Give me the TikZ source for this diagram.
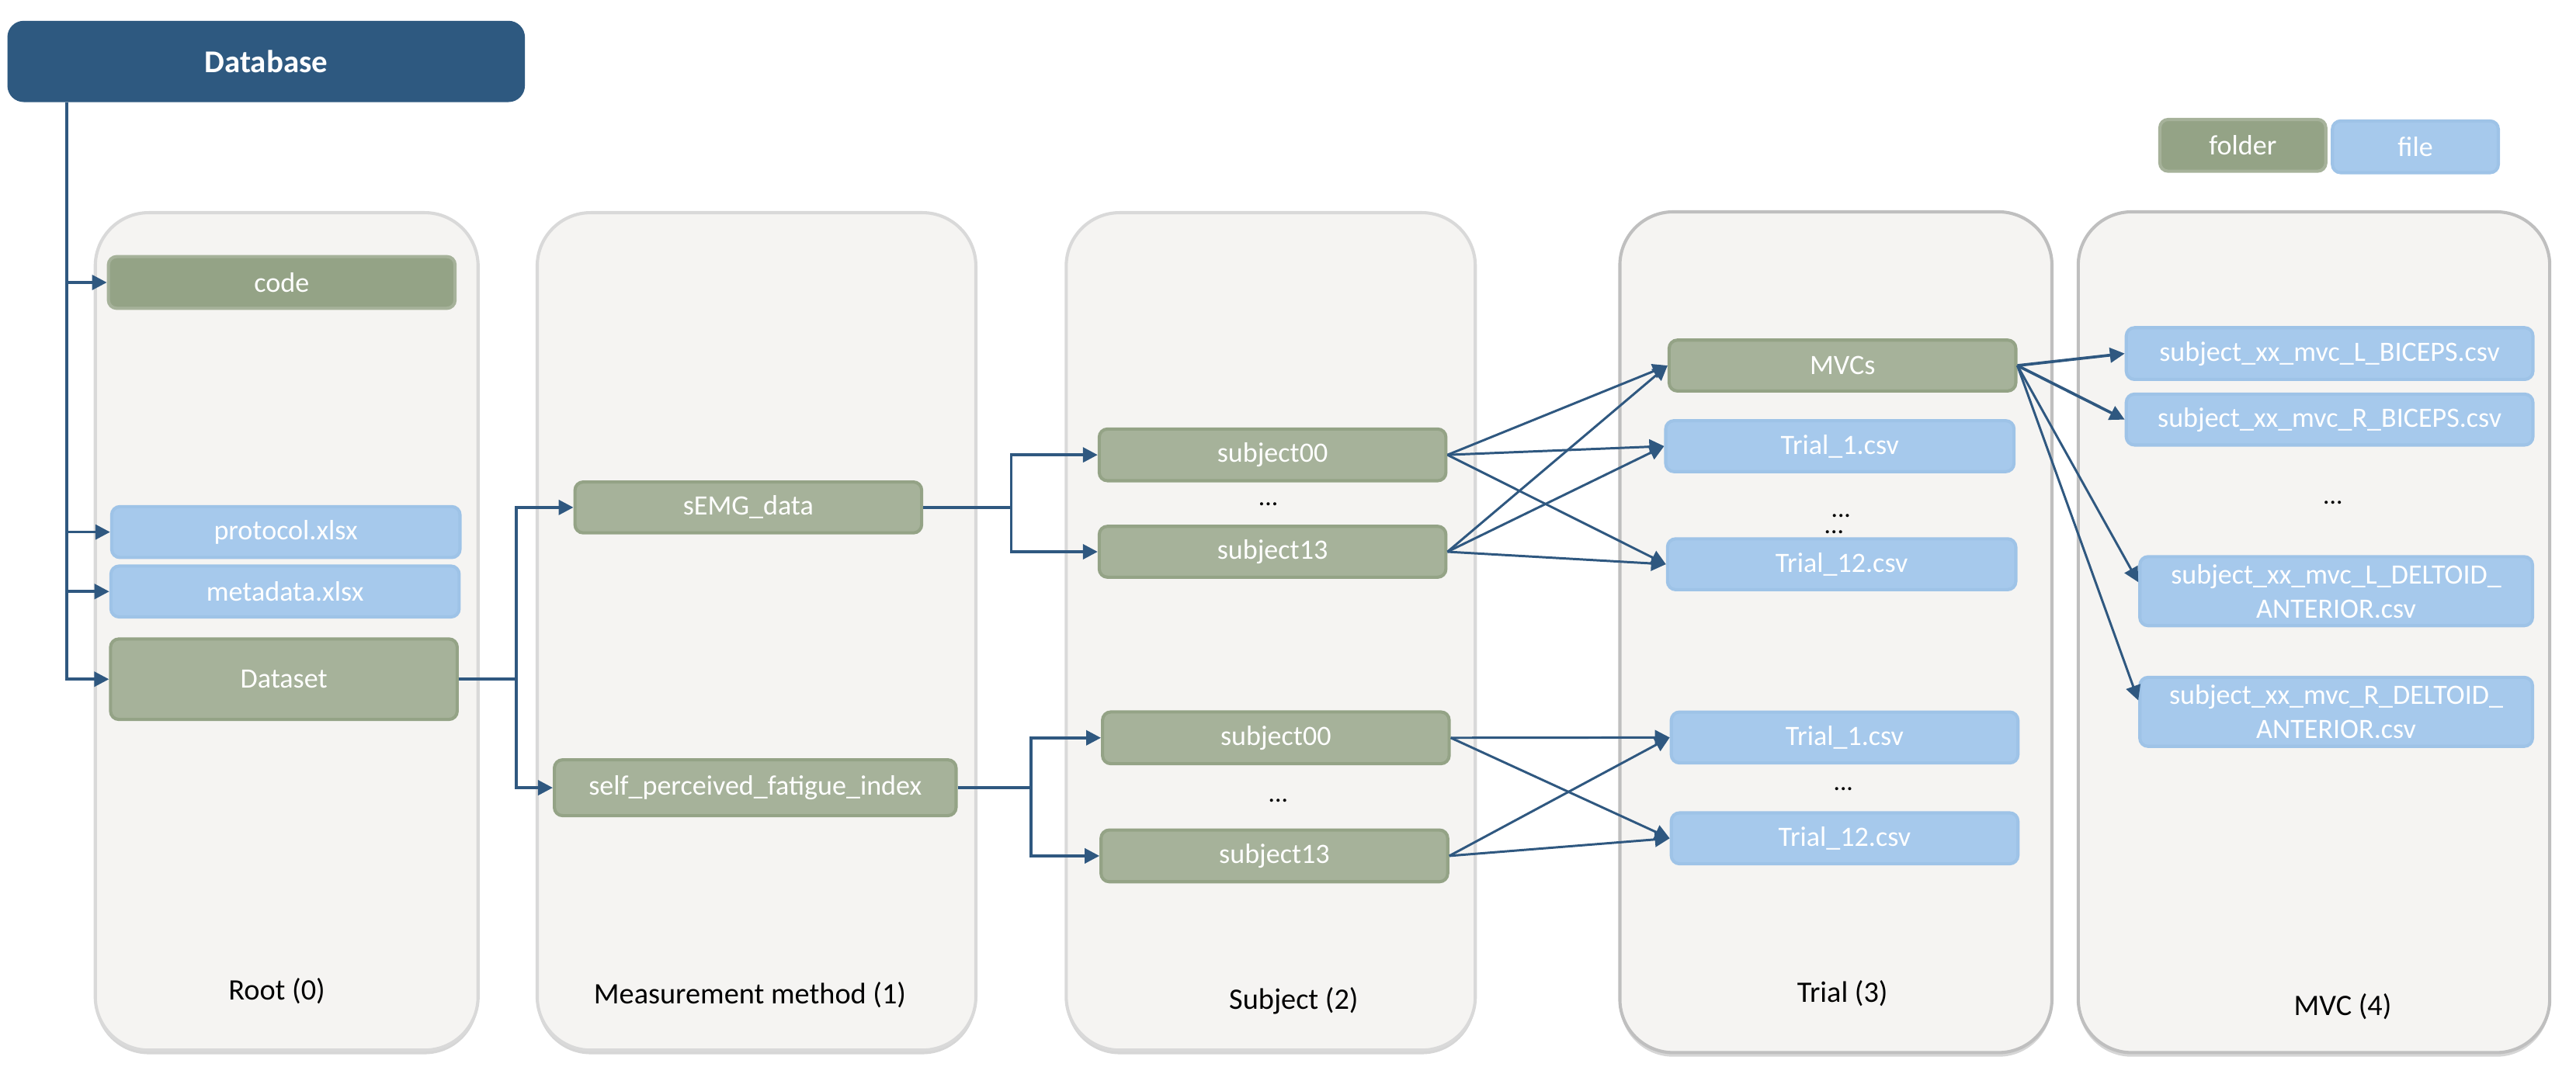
\documentclass[tikz,border=0pt]{standalone}
\usepackage{fontspec}
\setmainfont{Carlito}
\usepackage{xcolor}
\usepackage{tikz}
\usetikzlibrary{arrows.meta,shadows}

\definecolor{dbblue}{RGB}{46,89,128}
\definecolor{arrblue}{RGB}{47,88,128}
\definecolor{folderlt}{RGB}{166,178,154}
\definecolor{folderdk}{RGB}{148,163,134}
\definecolor{filebl}{RGB}{166,201,236}
\definecolor{fileedge}{RGB}{158,195,231}
\definecolor{panelfill}{RGB}{245,244,242}
\definecolor{paneledge}{RGB}{217,217,217}
\definecolor{paneldark}{RGB}{191,191,191}

\begin{document}
\begin{tikzpicture}[x=0.2mm, y=-0.2mm,
                    box/.style = {rounded corners=1mm, line width=1.1pt, text=white, inner sep=0pt,
                                  align=center, font=\fontsize{9.7}{11.8}\selectfont,
                                  minimum width=42.2mm, minimum height=6.2mm},
                    folder/.style = {box, fill=folderlt, draw=folderdk},
                    folderdark/.style = {box, fill=folderdk, draw=folderlt},
                    file/.style = {box, fill=filebl, draw=fileedge},
                    panel/.style = {rounded corners=6.5mm, fill=panelfill, draw=paneledge, line width=1.1pt,
                                    minimum height=102mm,
                                    drop shadow={shadow xshift=0mm, shadow yshift=-0.5mm, fill=black!16, opacity=1}},
                    level/.style = {font=\fontsize{10.3}{12}\selectfont},
                    dots/.style = {anchor=base, inner sep=0pt, text height=0.3ex, text depth=0pt,
                                   font=\fontsize{9}{10}\selectfont},
                    arr/.style = {draw=arrblue, line width=1pt, -{Triangle[length=1.8mm, width=1.8mm]}}]
                \useasboundingbox (0,0) rectangle (1568,654);

                \node[panel, minimum width=46.6mm] (root) at (174.5,384.5) {};
                \node[panel, minimum width=53.4mm] (meas) at (460.5,384.5) {};
                \node[panel, minimum width=49.8mm] (subj) at (773.5,384.5) {};
                \node[panel, draw=paneldark, minimum width=52.6mm, minimum height=102.4mm] (trial) at (1117.5,385) {};
                \node[panel, draw=paneldark, minimum width=57.4mm, minimum height=102.4mm] (mvc) at (1408.5,385) {};
                \node[level] (lroot) at (168.5,603.3) {Root (0)};
                \node[level] (lmeas) at (456.5,605.7) {Measurement method (1)};
                \node[level] (lsubj) at (787.5,609.6) {Subject (2)};
                \node[level] (ltrial) at (1121.5,605) {Trial (3)};
                \node[level] (lmvc) at (1426,612.8) {MVC (4)};

                \node[fill=dbblue, rounded corners=2mm, text=white, font=\bfseries\fontsize{11}{13}\selectfont,
                      minimum width=63mm, minimum height=9.9mm] (db) at (162,37.4) {Database};
                \coordinate (trunk) at ([xshift=7.3mm]db.south west);

                \node[folderdark, minimum width=20.2mm, minimum height=6.3mm] (legfolder) at (1365.2,88.5) {folder};
                \node[file, minimum width=20.2mm, minimum height=6.3mm] (legfile) at (1470.2,89.4) {file};

                \node[folderdark, minimum height=6.3mm] (code) at (171.5,172) {code};
                \node[file, minimum width=42.4mm] (protocol) at (174,324) {protocol.xlsx};
                \node[file, minimum width=42.4mm] (metadata) at (173.5,360.2) {metadata.xlsx};
                \node[folder, minimum height=9.8mm] (dataset) at (172.8,413.6) {Dataset};

                \node[folder] (semg) at (455.5,309) {sEMG\_data};
                \node[folder, minimum width=48.9mm, minimum height=6.8mm] (spfi) at (459.7,479.7) {self\_perceived\_fatigue\_index};

                \node[folder, minimum height=6.3mm] (s00a) at (774.6,277) {subject00};
                \node[dots] (da) at (772,308) {...};
                \node[folder] (s13a) at (774.6,336) {subject13};
                \node[folder, minimum height=6.3mm] (s00b) at (776.6,449.3) {subject00};
                \node[dots] (db2) at (778,488.5) {...};
                \node[folder, minimum height=6.3mm] (s13b) at (775.7,521.2) {subject13};

                \node[folder] (mvcs) at (1121.5,222.6) {MVCs};
                \node[file, minimum width=42.4mm] (t1a) at (1119.9,271.7) {Trial\_1.csv};
                \node[dots] (dt1) at (1120.6,315) {...};
                \node[dots] (dt2) at (1116.4,325) {...};
                \node[file, minimum width=42.4mm] (t12a) at (1121,343.6) {Trial\_12.csv};
                \node[file] (t1b) at (1122.8,449.1) {Trial\_1.csv};
                \node[dots] (dt3) at (1122,481.5) {...};
                \node[file] (t12b) at (1122.8,510.5) {Trial\_12.csv};

                \node[file, minimum width=49.5mm, minimum height=6.3mm] (lb) at (1418,215.3) {subject\_xx\_mvc\_L\_BICEPS.csv};
                \node[file, minimum width=49.5mm] (rb) at (1418,255.5) {subject\_xx\_mvc\_R\_BICEPS.csv};
                \node[dots] (dm) at (1420,307) {...};
                \node[file, minimum width=47.8mm, minimum height=8.4mm] (ld) at (1422,360) {subject\_xx\_mvc\_L\_DELTOID\_\\ANTERIOR.csv};
                \node[file, minimum width=47.8mm, minimum height=8.4mm] (rd) at (1422,433.5) {subject\_xx\_mvc\_R\_DELTOID\_\\ANTERIOR.csv};

                \foreach \n in {code,protocol,metadata,dataset}
                    \draw[arr] (trunk) |- (\n.west);
                \draw[arr] (dataset.east) -- ++(7mm,0) |- (semg.west);
                \draw[arr] (dataset.east) -- ++(7mm,0) |- (spfi.west);
                \draw[arr] (semg.east) -- ++(10.7mm,0) |- (s00a.west);
                \draw[arr] (semg.east) -- ++(10.7mm,0) |- (s13a.west);
                \draw[arr] (spfi.east) -- ++(8.9mm,0) |- (s00b.west);
                \draw[arr] (spfi.east) -- ++(8.9mm,0) |- (s13b.west);
                \foreach \s in {s00a,s13a}
                    \foreach \t in {mvcs,t1a,t12a}
                        \draw[arr, line width=0.8pt] (\s.east) -- (\t.west);
                \foreach \s in {s00b,s13b}
                    \foreach \t in {t1b,t12b}
                        \draw[arr, line width=0.8pt] (\s.east) -- (\t.west);
                \draw[arr] (mvcs.east) -- (lb.west);
                \draw[arr] (mvcs.east) -- (rb.west);
                \draw[arr, line width=0.8pt] (mvcs.east) -- ([yshift=1.1mm]ld.west);
                \draw[arr, line width=0.8pt] (mvcs.east) -- ([yshift=1.4mm]rd.west);
\end{tikzpicture}
\end{document}
